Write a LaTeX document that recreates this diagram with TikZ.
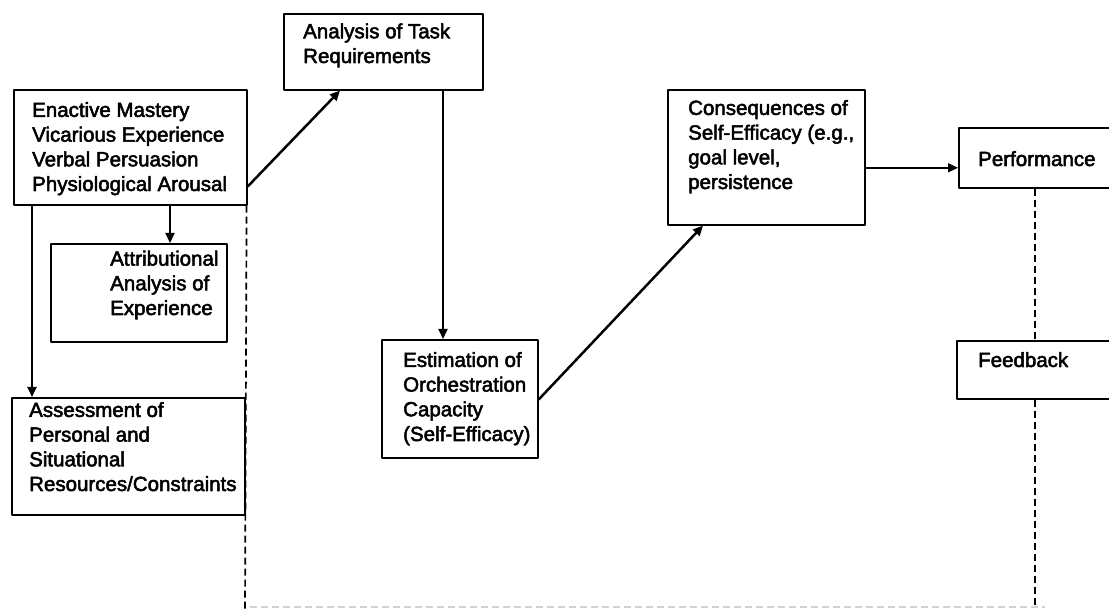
\documentclass[tikz,border=0pt]{standalone}
\usepackage{fontspec}
\setmainfont{Liberation Sans}[FakeBold=2.5]
\usetikzlibrary{arrows.meta}
\tikzset{
	box/.style={draw, line width=1.6pt, rectangle, inner sep=0pt, anchor=north west},
	txt/.style={anchor=base west, align=left, inner sep=0pt, font=\fontsize{20.5}{24.7}\selectfont},
	link/.style={line width=1.8pt, -{Triangle[length=10pt,width=9pt]}},
	fb/.style={line width=1.7pt, dash pattern=on 7pt off 4pt},
}
\begin{document}
\begin{tikzpicture}[x=1pt, y=-1pt, line join=round]
	\useasboundingbox (0,0) rectangle (1109,609);
	% boxes
	\node[box, minimum width=233pt, minimum height=115pt] (src) at (13,89) {};
	\node[box, minimum width=199pt, minimum height=76pt] (task) at (283,13) {};
	\node[box, minimum width=176pt, minimum height=98pt] (attr) at (50,243) {};
	\node[box, minimum width=233pt, minimum height=117pt] (assess) at (11,397) {};
	\node[box, minimum width=156pt, minimum height=118pt] (est) at (381,339) {};
	\node[box, minimum width=197pt, minimum height=135pt] (cons) at (667,89) {};
	\node[box, minimum width=170pt, minimum height=60pt] (perf) at (958,127) {};
	\node[box, minimum width=170pt, minimum height=58pt] (feed) at (956,340) {};
	% texts (placed at the baseline of the last line)
	\node[txt] (src-t) at (32,191) {Enactive Mastery\\Vicarious Experience\\Verbal Persuasion\\Physiological Arousal};
	\node[txt] (task-t) at (303,63) {Analysis of Task\\Requirements};
	\node[txt] (attr-t) at (110,315) {Attributional\\Analysis of\\Experience};
	\node[txt] (assess-t) at (29,491) {Assessment of\\Personal and\\Situational\\Resources/Constraints};
	\node[txt] (est-t) at (403,441) {Estimation of\\Orchestration\\Capacity\\(Self-Efficacy)};
	\node[txt] (cons-t) at (688,189) {Consequences of\\Self-Efficacy (e.g.,\\goal level,\\persistence};
	\node[txt] (perf-t) at (978,166) {Performance};
	\node[txt] (feed-t) at (978,367) {Feedback};
	% connectors
	\coordinate (perf-in) at ([yshift=-10pt]perf.west);
	\draw[link, line width=2.5pt] ([yshift=19pt]src.south east) -- ([xshift=57pt]task.south west);
	\draw[link] ([xshift=157pt]src.south west) -- ([xshift=157pt]src.south west |- attr.north);
	\draw[link] ([xshift=19pt]src.south west) -- ([xshift=19pt]src.south west |- assess.north);
	\draw[link] ([xshift=160pt]task.south west) -- ([xshift=160pt]task.south west |- est.north);
	\draw[link, line width=2.5pt] ([yshift=59pt]est.south east) -- ([xshift=36pt]cons.south west);
	\draw[link] (cons.east |- perf-in) -- (perf-in);
	% feedback loops
	\coordinate (endL) at (245,612);
	\coordinate (endR) at (1035,612);
	\coordinate (baseL) at (250,607);
	\coordinate (baseR) at (1045,607);
	\draw[fb] ([xshift=-1pt]src.south east) -- (endL);
	\draw[fb] ([xshift=77pt]perf.south west) -- ([xshift=77pt]perf.south west |- feed.north);
	\draw[fb] ([xshift=79pt]feed.south west) -- (endR);
	\draw[fb, gray!35] (baseL) -- (baseR);
\end{tikzpicture}
\end{document}
